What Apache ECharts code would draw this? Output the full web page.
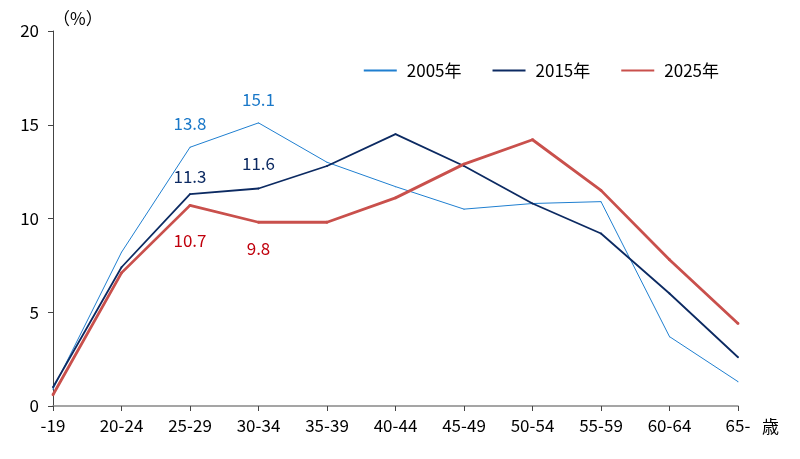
<!DOCTYPE html>
<html>
<head>
<meta charset="utf-8">
<script src="https://cdn.jsdelivr.net/npm/echarts@6/dist/echarts.min.js"></script>
<style>
  html, body { margin: 0; padding: 0; background: #fff; }
  #chart { width: 800px; height: 459px; }
</style>
</head>
<body>
<div id="chart"></div>
<script>
var ageGroups = ['-19', '20-24', '25-29', '30-34', '35-39', '40-44', '45-49', '50-54', '55-59', '60-64', '65-'];
var yearNames = ['2005年', '2015年', '2025年'];
var share2005 = [0.9, 8.2, 13.8, 15.1, 13.0, 11.7, 10.5, 10.8, 10.9, 3.7, 1.3];
var share2015 = [1.0, 7.4, 11.3, 11.6, 12.8, 14.5, 12.8, 10.8, 9.2, 6.0, 2.6];
var share2025 = [0.6, 7.1, 10.7, 9.8, 9.8, 11.1, 12.9, 14.2, 11.5, 7.8, 4.4];
var labelIdx = [2, 3];

var font = "'Noto Sans CJK JP', sans-serif";

// label only the 25-29 and 30-34 points, each with its own offset
function withLabels(values, color, pos, dists) {
  return values.map(function (v, i) {
    var k = labelIdx.indexOf(i);
    if (k < 0) return v;
    return {
      value: v,
      label: {
        show: true,
        position: pos,
        distance: dists[k],
        color: color,
        fontSize: 17,
        fontFamily: font
      }
    };
  });
}

function lineSeries(name, values, color, width, labelColor, pos, dists) {
  return {
    name: name,
    type: 'line',
    symbol: 'circle',
    symbolSize: width,
    showSymbol: true,
    color: color,
    itemStyle: { color: color },
    lineStyle: { width: width, color: color },
    data: withLabels(values, labelColor, pos, dists)
  };
}

var chart = echarts.init(document.getElementById('chart'));
var option = {
  animation: false,
  grid: { left: 53, right: 62, top: 31, bottom: 53 },
  legend: {
    top: 57,
    right: 76,
    itemWidth: 33,
    itemHeight: 10,
    itemGap: 30,
    itemStyle: { opacity: 0 },
    textStyle: { fontFamily: font, fontSize: 17, color: '#000', padding: [0, 0, 0, 5] },
    data: yearNames
  },
  xAxis: {
    type: 'category',
    data: ageGroups,
    boundaryGap: false,
    name: '歳',
    nameLocation: 'end',
    nameGap: 24,
    nameTextStyle: { fontFamily: font, fontSize: 17, color: '#000', verticalAlign: 'top', padding: [12, 0, 0, 0] },
    axisLine: { lineStyle: { color: '#888', width: 1.5 } },
    axisTick: { lineStyle: { color: '#444' }, length: 5 },
    axisLabel: { fontFamily: font, fontSize: 17, color: '#000', margin: 11, interval: 0 }
  },
  yAxis: {
    type: 'value',
    min: 0,
    max: 20,
    interval: 5,
    name: '（%）',
    nameLocation: 'end',
    nameGap: 4,
    nameTextStyle: { fontFamily: font, fontSize: 17, color: '#000', align: 'left', padding: [0, 0, 0, 0] },
    axisLine: { show: true, lineStyle: { color: '#444' } },
    axisTick: { show: true, inside: false, length: 5, lineStyle: { color: '#444' } },
    splitLine: { show: false },
    axisLabel: { fontFamily: font, fontSize: 17, color: '#000', margin: 14 }
  },
  series: [
    lineSeries(yearNames[0], share2005, '#1f7fd0', 1, '#1a78c8', 'top', [15, 14]),
    lineSeries(yearNames[1], share2015, '#0c2a62', 1.8, '#0c2a62', 'top', [8, 16]),
    lineSeries(yearNames[2], share2025, '#c9504c', 2.8, '#c0000c', 'bottom', [25, 16])
  ]
};
chart.setOption(option);
</script>
</body>
</html>
